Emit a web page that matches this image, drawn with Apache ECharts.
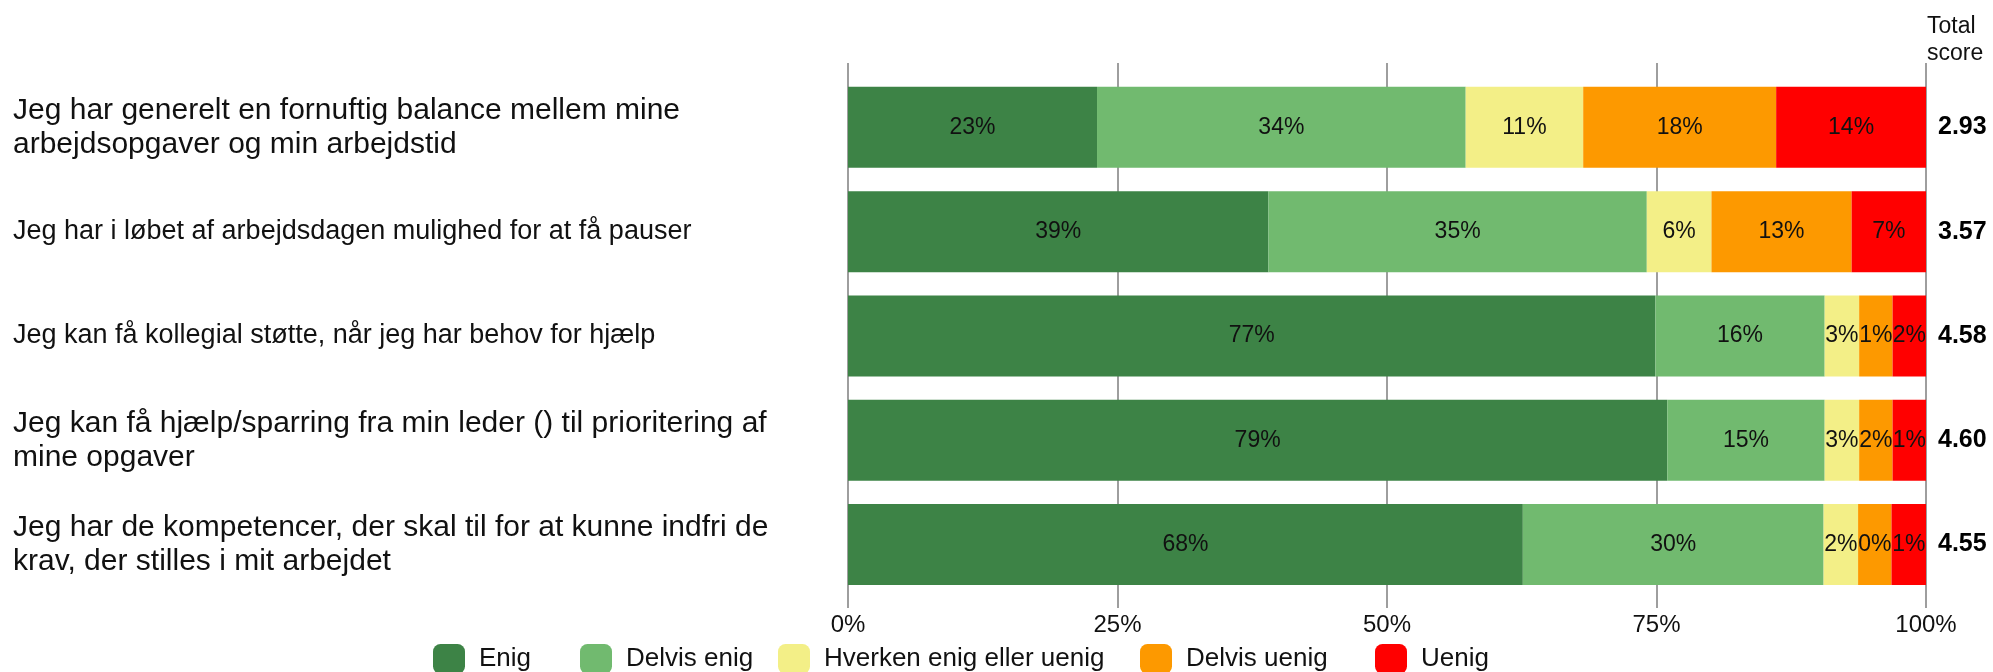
<!DOCTYPE html>
<html>
<head>
<meta charset="utf-8">
<script src="https://cdn.jsdelivr.net/npm/echarts@6/dist/echarts.min.js"></script>
<style>
html,body{margin:0;padding:0;background:#fff;}
#chart{width:1993px;height:672px;}
</style>
</head>
<body>
<div id="chart"></div>
<script>
// ---- data ----
const categories = [
  "Jeg har generelt en fornuftig balance mellem mine\narbejdsopgaver og min arbejdstid",
  "Jeg har i løbet af arbejdsdagen mulighed for at få pauser",
  "Jeg kan få kollegial støtte, når jeg har behov for hjælp",
  "Jeg kan få hjælp/sparring fra min leder () til prioritering af\nmine opgaver",
  "Jeg har de kompetencer, der skal til for at kunne indfri de\nkrav, der stilles i mit arbejdet"
];
const seriesNames = ["Enig", "Delvis enig", "Hverken enig eller uenig", "Delvis uenig", "Uenig"];
const seriesColors = ["#3d8346", "#71ba6f", "#f3ef87", "#fd9900", "#ff0000"];
// drawn bar widths (share of the full bar, as seen in the picture)
const enigBar        = [23.1, 39.0, 74.9, 76.0, 62.6];
const delvisEnigBar  = [34.2, 35.1, 15.7, 14.6, 27.9];
const hverkenBar     = [10.9,  6.0,  3.2,  3.2,  3.2];
const delvisUenigBar = [17.9, 13.0,  3.1,  3.1,  3.1];
const uenigBar       = [13.9,  6.9,  3.1,  3.1,  3.2];
// printed percentages
const enigPct        = [23, 39, 77, 79, 68];
const delvisEnigPct  = [34, 35, 16, 15, 30];
const hverkenPct     = [11,  6,  3,  3,  2];
const delvisUenigPct = [18, 13,  1,  2,  0];
const uenigPct       = [14,  7,  2,  1,  1];
const totalScores = ["2.93", "3.57", "4.58", "4.60", "4.55"];
const xTicks = [0, 25, 50, 75, 100];

const barData = [enigBar, delvisEnigBar, hverkenBar, delvisUenigBar, uenigBar];
const pctData = [enigPct, delvisEnigPct, hverkenPct, delvisUenigPct, uenigPct];

const FONT = "'Liberation Sans', Arial, Helvetica, sans-serif";
const GL = 848, GW = 1078;
const legendLeft = [433, 580, 778, 1140, 1375];

const chart = echarts.init(document.getElementById('chart'), null, {renderer: 'canvas'});
const series = seriesNames.map((name, si) => ({
  name: name,
  type: 'bar',
  stack: 'total',
  xAxisIndex: 1,
  yAxisIndex: 1,
  barWidth: '77.7%',
  itemStyle: {color: seriesColors[si]},
  label: {
    show: true,
    position: 'inside',
    fontFamily: FONT,
    fontSize: 23,
    color: '#111',
    formatter: p => pctData[si][p.dataIndex] + '%'
  },
  emphasis: {disabled: true},
  data: barData[si]
}));

const legends = seriesNames.map((name, i) => ({
  data: [name],
  left: legendLeft[i], top: 644,
  padding: 0,
  itemWidth: 32, itemHeight: 30,
  icon: 'roundRect',
  textStyle: {fontFamily: FONT, fontSize: 26, color: '#111', padding: [0,0,0,9]}
}));

chart.setOption({
  animation: false,
  textStyle: {fontFamily: FONT},
  title: {
    text: 'Total\nscore',
    left: 1922, top: 8,
    textStyle: {fontFamily: FONT, fontSize: 23, fontWeight: 'normal', color: '#111', lineHeight: 27}
  },
  legend: legends,
  grid: [
    {left: GL, width: GW, top: 63, height: 545, containLabel: false},
    {left: GL, width: GW, top: 75.2, height: 521.5, containLabel: false}
  ],
  xAxis: [
    {
      type: 'value', gridIndex: 0, min: 0, max: 100, interval: 25,
      axisLine: {show: false}, axisTick: {show: false},
      splitLine: {show: true, lineStyle: {color: '#9e9e9e', width: 2}},
      axisLabel: {fontFamily: FONT, fontSize: 24, color: '#111', margin: 5,
        formatter: v => xTicks.indexOf(v) >= 0 ? v + '%' : ''}
    },
    {
      type: 'value', gridIndex: 1, min: 0, max: 100, show: false,
      splitLine: {show: false}
    }
  ],
  yAxis: [
    {type: 'value', gridIndex: 0, show: false, splitLine: {show: false}},
    {
      type: 'category', gridIndex: 1, inverse: true, data: categories,
      axisLine: {show: false}, axisTick: {show: false},
      axisLabel: {
        align: 'left', margin: GL - 13, color: '#111',
        formatter: v => (v.indexOf('\n') >= 0 ? '{w|' : '{s|') + v + '}',
        rich: {
          w: {fontFamily: FONT, fontSize: 30, lineHeight: 34, color: '#111'},
          s: {fontFamily: FONT, fontSize: 27, lineHeight: 34, color: '#111'}
        }
      }
    },
    {
      type: 'category', gridIndex: 1, inverse: true, position: 'right', data: totalScores,
      axisLine: {show: false}, axisTick: {show: false},
      axisLabel: {align: 'left', margin: 12, fontFamily: FONT, fontSize: 25, fontWeight: 'bold', color: '#000'}
    }
  ],
  series: series
});
</script>
</body>
</html>
